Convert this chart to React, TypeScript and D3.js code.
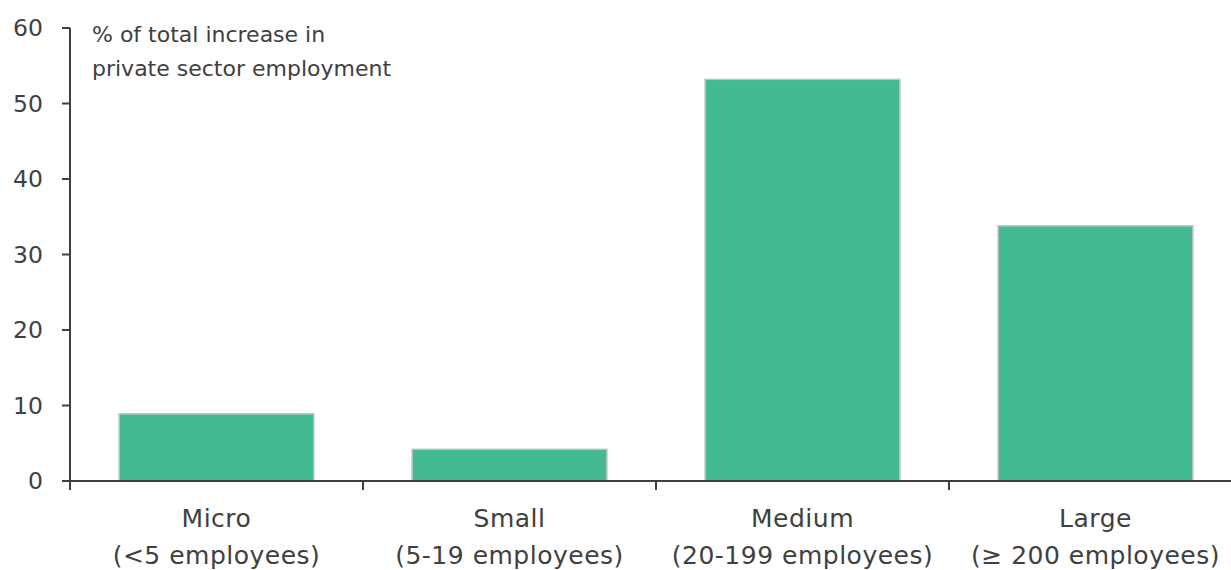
import React from "react";
import * as d3 from "d3";

const categories = ["Micro", "Small", "Medium", "Large"];
const subLabels = ["(<5 employees)", "(5-19 employees)", "(20-199 employees)", "(≥ 200 employees)"];
const values = [8.9, 4.2, 53.2, 33.8];
const yTicks = [0, 10, 20, 30, 40, 50, 60];
const titleLines = ["% of total increase in", "private sector employment"];

const W = 1231;
const H = 570;
const FONT = "'DejaVu Sans', sans-serif";
const TEXT = "#404040";
const AXIS = "#404040";

export default function App() {
  const x0 = 70;
  const step = 293;
  const x = d3
    .scaleBand<string>()
    .domain(categories)
    .range([x0, x0 + step * categories.length])
    .paddingInner(0.335)
    .paddingOuter(0.1675);
  const y = d3.scaleLinear().domain([0, 60]).range([481, 28]);
  const bw = x.bandwidth();

  return (
    <svg width={W} height={H} style={{ position: "absolute", left: 0, top: 0, background: "#fff" }} fontFamily={FONT}>
      {categories.map((c, i) => (
        <rect
          key={c}
          x={x(c)!}
          y={y(values[i])}
          width={bw}
          height={y(0) - y(values[i])}
          fill="#43b994"
          stroke="#c4c4c4"
          strokeWidth={1.5}
        />
      ))}
      <line x1={x0} x2={x0} y1={y(60)} y2={y(0)} stroke={AXIS} strokeWidth={2} />
      {yTicks.map((t) => (
        <g key={t}>
          <line x1={x0 - 8} x2={x0} y1={y(t)} y2={y(t)} stroke={AXIS} strokeWidth={2} />
          <text x={43} y={y(t)} dy="0.36em" textAnchor="end" fontSize={23.5} fill={TEXT}>
            {t}
          </text>
        </g>
      ))}
      <line x1={x0 - 8} x2={W} y1={y(0)} y2={y(0)} stroke={AXIS} strokeWidth={2} />
      {categories.map((c, i) => {
        const bx = x0 + step * i;
        return <line key={"t" + c} x1={bx} x2={bx} y1={y(0)} y2={y(0) + 9} stroke={AXIS} strokeWidth={2} />;
      })}
      {categories.map((c, i) => {
        const cx = x(c)! + bw / 2;
        return (
          <g key={"l" + c}>
            <text x={cx} y={527} textAnchor="middle" fontSize={25} letterSpacing={0.5} fill={TEXT}>
              {c}
            </text>
            <text x={cx} y={564} textAnchor="middle" fontSize={25} letterSpacing={0.5} fill={TEXT}>
              {subLabels[i]}
            </text>
          </g>
        );
      })}
      {titleLines.map((t, i) => (
        <text key={t} x={92} y={42 + i * 34} fontSize={22} fill={TEXT}>
          {t}
        </text>
      ))}
    </svg>
  );
}
